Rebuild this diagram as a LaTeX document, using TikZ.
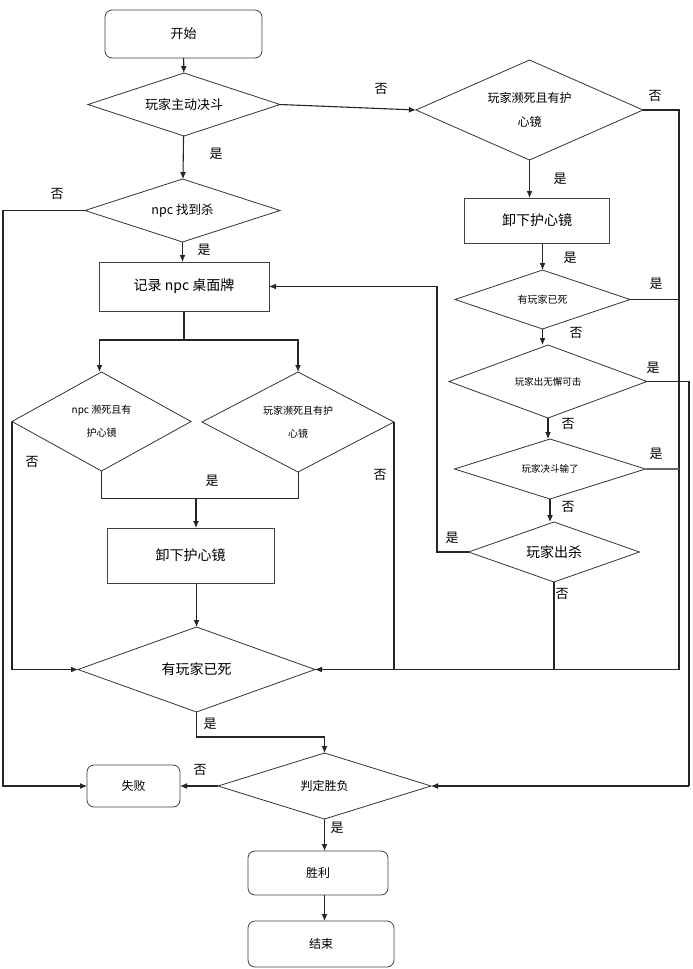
\documentclass[tikz,border=0pt]{standalone}
\usepackage{fontspec}
\setmainfont{Noto Sans CJK SC}
\usetikzlibrary{shapes.geometric,arrows.meta}
\newcommand\fsz[1]{\fontsize{#1}{#1}\selectfont}
\begin{document}
\begin{tikzpicture}[x=1pt,y=-1pt,
  every node/.style={inner sep=0pt, outer sep=0pt},
  line/.style={draw=black!85, line width=1.1pt},
  arr/.style={line, -{Latex[length=7pt,width=6pt]}},
  rbox/.style={draw=black!75, line width=0.8pt, rounded corners=7pt, rectangle},
  sbox/.style={draw=black!75, line width=0.8pt, rectangle},
  dia/.style={draw=black!80, line width=0.8pt, diamond, shape aspect=3, align=center},
  lab/.style={font=\fsz{13}}
]
\useasboundingbox (0,0) rectangle (693,969);

% left / centre column
\node[rbox, minimum width=157pt, minimum height=48pt, font=\fsz{13}] (start) at (183.5,34) {开始};
\node[dia, minimum width=192pt, minimum height=63pt, font=\fsz{13}] (d1) at (184,104.5) {玩家主动决斗};
\node[dia, minimum width=195pt, minimum height=63pt, font=\fsz{12.5}] (d7) at (182.5,210.5) {npc 找到杀};
\node[sbox, minimum width=170pt, minimum height=49pt, font=\fsz{14}] (rec) at (184,286.5) {记录 npc 桌面牌};
\node[dia, minimum width=179pt, minimum height=99pt, font=\fontsize{10}{23}\selectfont] (d8) at (101.5,421.5) {npc 濒死且有\\护心镜};
\node[dia, minimum width=192pt, minimum height=100pt, font=\fontsize{10}{23}\selectfont] (d9) at (298,422) {玩家濒死且有护\\心镜};
\node[sbox, minimum width=167pt, minimum height=55pt, font=\fsz{14}] (box2) at (190.5,555.5) {卸下护心镜};
\node[dia, minimum width=237pt, minimum height=85pt, font=\fsz{14}] (d10) at (196.5,669.5) {有玩家已死};
\node[dia, minimum width=213pt, minimum height=66pt, font=\fsz{12}] (d11) at (324.5,786) {判定胜负};
\node[rbox, minimum width=93pt, minimum height=42pt, font=\fsz{12}] (fail) at (133.5,786) {失败};
\node[rbox, minimum width=140pt, minimum height=44pt, font=\fsz{12}] (win) at (318,873) {胜利};
\node[rbox, minimum width=146pt, minimum height=46pt, font=\fsz{12}] (end) at (321,944) {结束};

% right column
\node[dia, minimum width=227pt, minimum height=100pt, font=\fontsize{12}{24}\selectfont] (d2) at (529.5,110) {玩家濒死且有护\\心镜};
\node[sbox, minimum width=145pt, minimum height=45pt, font=\fsz{14}] (box1) at (537,220.5) {卸下护心镜};
\node[dia, minimum width=175pt, minimum height=59pt, font=\fsz{10}] (d3) at (542.5,299.5) {有玩家已死};
\node[dia, minimum width=198pt, minimum height=73pt, font=\fsz{9.5}] (d4) at (548,381.5) {玩家出无懈可击};
\node[dia, minimum width=191pt, minimum height=60pt, font=\fsz{9.5}] (d5) at (550,469) {玩家决斗输了};
\node[dia, minimum width=171pt, minimum height=60pt, font=\fsz{14}] (d6) at (554,552) {玩家出杀};

% helper coordinates
\coordinate (xL) at (3,0);
\coordinate (xR1) at (679,0);
\coordinate (xR2) at (689,0);
\coordinate (xB) at (437,0);
\coordinate (split) at (184,340);
\coordinate (merge) at (196,498);
\coordinate (yv) at (0,737);

% connectors
\draw[arr] (start) -- (d1);
\draw[arr] (d1.east) -- (d2.west);
\draw[arr] (d1) -- (d7);
\draw[arr] (d7.west) -- (xL |- d7.west) -- (xL |- fail.west) -- (fail.west);
\draw[arr] (d7.south) -- (d7.south |- rec.north);
\draw[line] (rec.south) -- (split);
\draw[arr] (split) -| ([xshift=-2pt]d8.north);
\draw[arr] (split) -| (d9.north);
\draw[line, line width=0.9pt] (d8.south) -- (d8.south |- merge) -- (d9.south |- merge) -- (d9.south);
\draw[arr] (merge) -- (merge |- box2.north);
\draw[arr] (d10.north |- box2.south) -- (d10.north);
\draw[arr] (d8.west) -- (d8.west |- d10.west) -- (d10.west);
\draw[line] (d9.east) -- (d9.east |- d10.east);
\draw[arr] (xR1 |- d10.east) -- (d10.east);
\draw[line] (d2.east) -- (xR1 |- d2.east) -- (xR1 |- d10.east);
\draw[arr] (d2.south) -- (d2.south |- box1.north);
\draw[arr] (d3.north |- box1.south) -- (d3.north);
\draw[line] (d3.east) -- (xR1 |- d3.east);
\draw[arr] (d3.south) -- (d3.south |- d4.north);
\draw[line] (d4.east) -- (xR2 |- d4.east) -- (xR2 |- d11.east);
\draw[arr] (xR2 |- d11.east) -- (d11.east);
\draw[arr] (d4.south) -- (d4.south |- d5.north);
\draw[line, draw=black!60] (d5.east) -- (xR1 |- d5.east);
\draw[arr] (d5.south) -- (d5.south |- d6.north);
\draw[arr] (d6.west) -- (xB |- d6.west) -- (xB |- rec.east) -- (rec.east);
\draw[line] (d6.south) -- (d6.south |- d10.east);
\draw[arr] (d10.south) -- (d10.south |- yv) -- (d11.north |- yv) -- (d11.north);
\draw[arr] (d11.west) -- (fail.east);
\draw[arr] (d11.south) -- (d11.south |- win.north);
\draw[arr] (win.south -| d11.south) -- (end.north -| d11.south);

% labels
\node[lab] (l1) at (381,89) {否};
\node[lab] (l2) at (216,154) {是};
\node[lab] (l3) at (57,194) {否};
\node[lab] (l4) at (204,250) {是};
\node[lab] (l5) at (655,96) {否};
\node[lab] (l6) at (560,179) {是};
\node[lab] (l7) at (570,258) {是};
\node[lab] (l8) at (656,284) {是};
\node[lab] (l9) at (576,333) {否};
\node[lab] (l10) at (653,368) {是};
\node[lab] (l11) at (568,424) {否};
\node[lab] (l12) at (656,454) {是};
\node[lab] (l13) at (568,507) {否};
\node[lab] (l14) at (452,538) {是};
\node[lab] (l15) at (562,594) {否};
\node[lab] (l16) at (32,462) {否};
\node[lab] (l17) at (212,481) {是};
\node[lab] (l18) at (380,475) {否};
\node[lab] (l19) at (210,724) {是};
\node[lab] (l20) at (200,770) {否};
\node[lab] (l21) at (337,828) {是};
\end{tikzpicture}
\end{document}
